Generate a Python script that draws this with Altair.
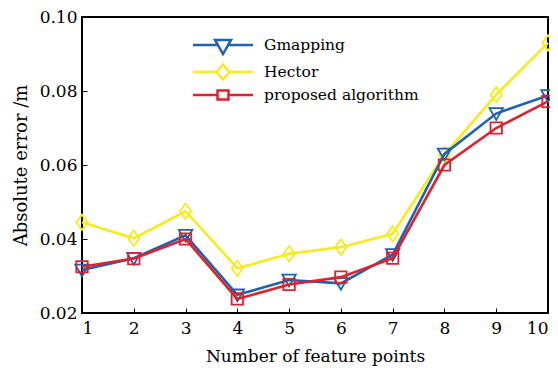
import altair as alt
import pandas as pd

x_vals = [1, 2, 3, 4, 5, 6, 7, 8, 9, 10]
gmapping = [0.0316, 0.0348, 0.0410, 0.0249, 0.0289, 0.0280, 0.0358, 0.0630, 0.0739, 0.0788]
hector = [0.0445, 0.0402, 0.0475, 0.0321, 0.0360, 0.0378, 0.0414, 0.0628, 0.0790, 0.0930]
proposed = [0.0325, 0.0347, 0.0400, 0.0238, 0.0277, 0.0297, 0.0348, 0.0600, 0.0700, 0.0772]

series_names = ["Gmapping", "Hector", "proposed algorithm"]
series_values = {"Gmapping": gmapping, "Hector": hector, "proposed algorithm": proposed}
colors = ["#1f62ad", "#f7ea1f", "#e0212d"]

rows = []
for name in series_names:
    for xv, yv in zip(x_vals, series_values[name]):
        rows.append({"x": xv, "value": yv, "series": name})
df = pd.DataFrame(rows)

plot_shapes = {
    "Gmapping": "M-1,-0.8L1,-0.8L0,0.95Z",
    "Hector": "M0,-1.15L0.85,0L0,1.15L-0.85,0Z",
    "proposed algorithm": "M-0.85,-0.85H0.85V0.85H-0.85Z",
}
# legend symbols (unit = 7.5px): line 60px long with hollow marker
legend_shapes = [
    "M-4,0H-0.53M0.53,0H4M-1.07,-0.67L1.07,-0.67L0,1.2Z",
    "M-4,0H-0.87M0.87,0H4M0,-1L0.87,0L0,1L-0.87,0Z",
    "M-4,0H-0.73M0.73,0H4M-0.73,-0.6H0.73V0.6H-0.73Z",
]

color_scale = alt.Scale(domain=series_names, range=colors)
font = "DejaVu Serif"

x_enc = alt.X(
    "x:Q",
    scale=alt.Scale(domain=[1, 10], nice=False),
    axis=alt.Axis(
        values=x_vals, title="Number of feature points", format="d",
        tickSize=alt.ExprRef(expr="-5"), labelPadding=12, titlePadding=12,
        domain=False, grid=False, tickColor="black", tickWidth=1,
    ),
)
y_enc = alt.Y(
    "value:Q",
    scale=alt.Scale(domain=[0.02, 0.10], nice=False),
    axis=alt.Axis(
        values=[0.02, 0.04, 0.06, 0.08, 0.10], title="Absolute error /m", format=".2f",
        tickSize=alt.ExprRef(expr="-5"), labelPadding=10, titlePadding=9,
        domain=False, grid=False, tickColor="black", tickWidth=1,
    ),
)

legend_layer = alt.Chart(df).transform_filter("false").mark_point(filled=False, opacity=1).encode(
    x=x_enc, y=y_enc,
    color=alt.Color(
        "series:N", scale=color_scale,
        legend=alt.Legend(
            title=None, orient="none", legendX=132, legendY=19, padding=0,
            symbolSize=225, symbolStrokeWidth=2.5, labelFont=font, labelFontSize=15.5,
            labelColor="black", labelOffset=32, rowPadding=0, symbolOpacity=1,
        ),
    ),
    shape=alt.Shape("series:N", scale=alt.Scale(domain=series_names, range=legend_shapes)),
)

layers = [legend_layer]
for name in ["Hector", "Gmapping", "proposed algorithm"]:
    sub = alt.Chart(df).transform_filter(alt.datum.series == name)
    layers.append(
        sub.mark_line(strokeWidth=2.6).encode(
            x=x_enc, y=y_enc,
            color=alt.Color("series:N", scale=color_scale),
        )
    )
    layers.append(
        sub.mark_point(shape=plot_shapes[name], filled=False, size=180, strokeWidth=1.8, opacity=1).encode(
            x=x_enc, y=y_enc,
            color=alt.Color("series:N", scale=color_scale),
        )
    )

chart = alt.layer(*layers).properties(
    width=466, height=296,
    autosize=alt.AutoSizeParams(type="none"),
    padding={"left": 74, "top": 9, "right": 2, "bottom": 54},
    background="white",
).configure_view(
    stroke="black", strokeWidth=2,
).configure_axis(
    labelFont=font, labelFontSize=17, labelColor="black",
    titleFont=font, titleColor="black", titleFontWeight="normal",
).configure_axisX(
    titleFontSize=17,
).configure_axisY(
    titleFontSize=18,
)

chart.save("out.html", embed_options={"renderer": "svg", "actions": False})
